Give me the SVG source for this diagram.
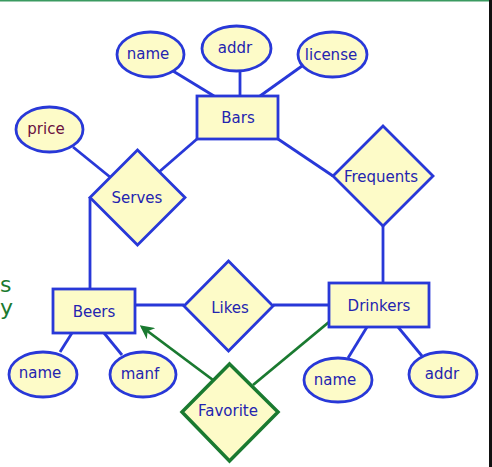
<svg xmlns="http://www.w3.org/2000/svg" width="492" height="467" viewBox="0 0 492 467">
<style>
.shape{fill:#fdfbc8;stroke:#2838d8;stroke-width:2.8}
.fav{fill:#fdfbc8;stroke:#1a7a30;stroke-width:3.5}
.ln{stroke:#2838d8;stroke-width:2.8;fill:none}
.gl{stroke:#1a7a30;stroke-width:2.8;fill:none}
text{font-family:"DejaVu Sans","Liberation Sans",sans-serif;font-size:15px;fill:#2424b0;text-anchor:middle;dominant-baseline:central}
.side{fill:#1a7a30;font-size:22px;text-anchor:start}
</style>
<defs>
<marker id="ga" viewBox="0 0 10 10" refX="8" refY="5" markerWidth="5" markerHeight="5" orient="auto" markerUnits="strokeWidth">
<path d="M0,0 L10,5 L0,10 L3,5 Z" fill="#1a7a30"/>
</marker>
</defs>
<rect x="0" y="0" width="492" height="467" fill="#ffffff"/>
<line x1="0" y1="0.5" x2="492" y2="0.5" stroke="#3a9a60" stroke-width="2"/>
<rect x="489" y="0" width="3" height="467" fill="#111111"/>
<text class="side" x="0" y="284">s</text>
<text class="side" x="0" y="307" font-size="11">y</text>
<g id="connectors">
<line class="ln" x1="173" y1="71" x2="214" y2="96"/>
<line class="ln" x1="240" y1="71" x2="240" y2="96"/>
<line class="ln" x1="302" y1="66" x2="260" y2="96"/>
<line class="ln" x1="197" y1="139" x2="159" y2="172"/>
<line class="ln" x1="278" y1="139" x2="333" y2="176"/>
<line class="ln" x1="73" y1="147" x2="110" y2="177"/>
<line class="ln" x1="90" y1="197" x2="90" y2="289"/>
<line class="ln" x1="383" y1="226" x2="383" y2="283"/>
<line class="ln" x1="135" y1="305" x2="184" y2="305"/>
<line class="ln" x1="273" y1="305" x2="329" y2="305"/>
<line class="ln" x1="72" y1="333" x2="60" y2="352"/>
<line class="ln" x1="104" y1="333" x2="122" y2="355"/>
<line class="ln" x1="367" y1="327" x2="348" y2="358"/>
<line class="ln" x1="398" y1="327" x2="422" y2="356"/>
<line class="gl" x1="213" y1="380" x2="142" y2="327" marker-end="url(#ga)"/>
<line class="gl" x1="253" y1="385" x2="329" y2="322"/>
</g>
<g id="bars-name"><ellipse class="shape" cx="150.5" cy="54.5" rx="33.5" ry="22.5"/><text x="148" y="54">name</text></g>
<g id="bars-addr"><ellipse class="shape" cx="236.5" cy="48.5" rx="34.5" ry="22.5"/><text x="235" y="48">addr</text></g>
<g id="bars-license"><ellipse class="shape" cx="332.5" cy="54.5" rx="34.5" ry="22.5"/><text x="331" y="55">license</text></g>
<g id="bars"><rect class="shape" x="197" y="96" width="81" height="43"/><text x="238" y="118">Bars</text></g>
<g id="price"><ellipse class="shape" cx="49.5" cy="129.5" rx="33.5" ry="22.5"/><text x="46" y="129" style="fill:#6a1040">price</text></g>
<g id="serves"><polygon class="shape" points="137.5,150 185,197.5 137.5,245 90,197.5"/><text x="137" y="198">Serves</text></g>
<g id="frequents"><polygon class="shape" points="383,126 433,176 383,226 333,176"/><text x="381" y="177">Frequents</text></g>
<g id="beers"><rect class="shape" x="53" y="289" width="82" height="44"/><text x="94" y="312">Beers</text></g>
<g id="likes"><polygon class="shape" points="228.5,261 273,306 228.5,351 184,306"/><text x="230" y="308">Likes</text></g>
<g id="drinkers"><rect class="shape" x="329" y="283" width="100" height="44"/><text x="379" y="306">Drinkers</text></g>
<g id="beers-name"><ellipse class="shape" cx="43" cy="374.5" rx="34" ry="22.5"/><text x="40" y="373">name</text></g>
<g id="beers-manf"><ellipse class="shape" cx="143" cy="374.5" rx="33" ry="22.5"/><text x="140" y="374">manf</text></g>
<g id="drinkers-name"><ellipse class="shape" cx="338" cy="380" rx="34" ry="22"/><text x="335" y="380">name</text></g>
<g id="drinkers-addr"><ellipse class="shape" cx="443" cy="374.5" rx="34" ry="22.5"/><text x="442" y="374">addr</text></g>
<g id="favorite"><polygon class="fav" points="229.5,364 278,412 229.5,461 182,412"/><text x="228" y="411">Favorite</text></g>
</svg>
